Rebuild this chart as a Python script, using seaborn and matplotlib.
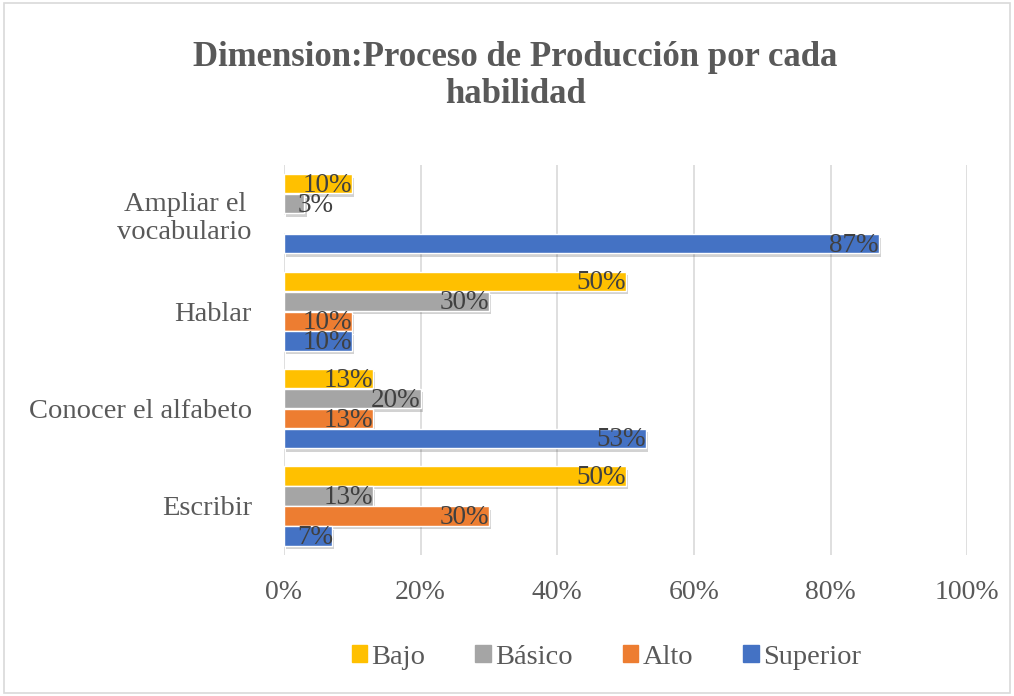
import matplotlib
matplotlib.use("Agg")
import matplotlib.pyplot as plt
import matplotlib.patheffects as pe
from matplotlib.patches import Rectangle
import seaborn as sns
import pandas as pd

categories = ["Ampliar el\nvocabulario", "Hablar", "Conocer el alfabeto", "Escribir"]
series = ["Bajo", "Básico", "Alto", "Superior"]
bajo = [10, 50, 13, 50]
basico = [3, 30, 20, 13]
alto = [0, 10, 13, 30]
superior = [87, 10, 53, 7]
xticks = [0, 20, 40, 60, 80, 100]
colors = ["#FFC000", "#A5A5A5", "#ED7D31", "#4472C4"]

rows = []
for s, vals in zip(series, [bajo, basico, alto, superior]):
    for c, v in zip(categories, vals):
        rows.append({"cat": c, "serie": s, "val": v})
df = pd.DataFrame(rows)

sns.set_theme(style="white")
plt.rcParams["font.family"] = ["Liberation Serif", "DejaVu Serif"]

fig = plt.figure(figsize=(10.14, 6.96), dpi=100)
ax = fig.add_axes([0.280, 0.203, 0.674, 0.560])

sns.barplot(data=df, y="cat", x="val", hue="serie", order=categories,
            hue_order=series, palette=colors, orient="h", width=0.82,
            gap=0.04, ax=ax, saturation=1, legend=False)

for cont in ax.containers:
    for bar in cont:
        bar.set_path_effects([pe.SimplePatchShadow(offset=(1.5, -2.5), alpha=0.22, shadow_rgbFace="#333333"),
                              pe.Normal()])
    for bar in cont:
        w = bar.get_width()
        if w <= 0:
            continue
        y = bar.get_y() + bar.get_height() / 2
        ax.text(max(w, 7.2), y + 0.015, f"{w:.0f}%", ha="right", va="center",
                fontsize=19.5, color="#404040")

ax.set_xlim(0, 100)
ax.set_ylim(3.5, -0.5)
ax.set_xticks(xticks)
ax.set_xticklabels([f"{t}%" for t in xticks], fontsize=20, color="#595959")
ax.tick_params(axis="x", length=0, pad=18)
ax.tick_params(axis="y", length=0, pad=23)
for lab in ax.get_yticklabels():
    lab.set_fontsize(20.5)
    lab.set_color("#595959")
    lab.set_multialignment("center")
ax.grid(axis="x", color="#D9D9D9", linewidth=1.2)
ax.set_axisbelow(True)
for sp in ax.spines.values():
    sp.set_visible(False)
ax.set_xlabel("")
ax.set_ylabel("")

fig.text(0.508, 0.891, "Dimension:Proceso de Producción por cada\nhabilidad",
         ha="center", va="center", fontsize=25, fontweight="bold",
         color="#595959", linespacing=1.15)

handles = [Rectangle((0, 0), 1, 1, color=c) for c in colors]
fig.legend(handles, series, loc="center", bbox_to_anchor=(0.598, 0.056), ncol=4,
           frameon=False, fontsize=20.5, handlelength=0.55, handleheight=0.55,
           columnspacing=1.75, handletextpad=0.15, labelcolor="#595959")

fig.patches.append(Rectangle((0.004, 0.004), 0.992, 0.992, transform=fig.transFigure,
                             fill=False, edgecolor="#D9D9D9", linewidth=1.2))

fig.savefig("out.png", dpi=100, facecolor="white")
